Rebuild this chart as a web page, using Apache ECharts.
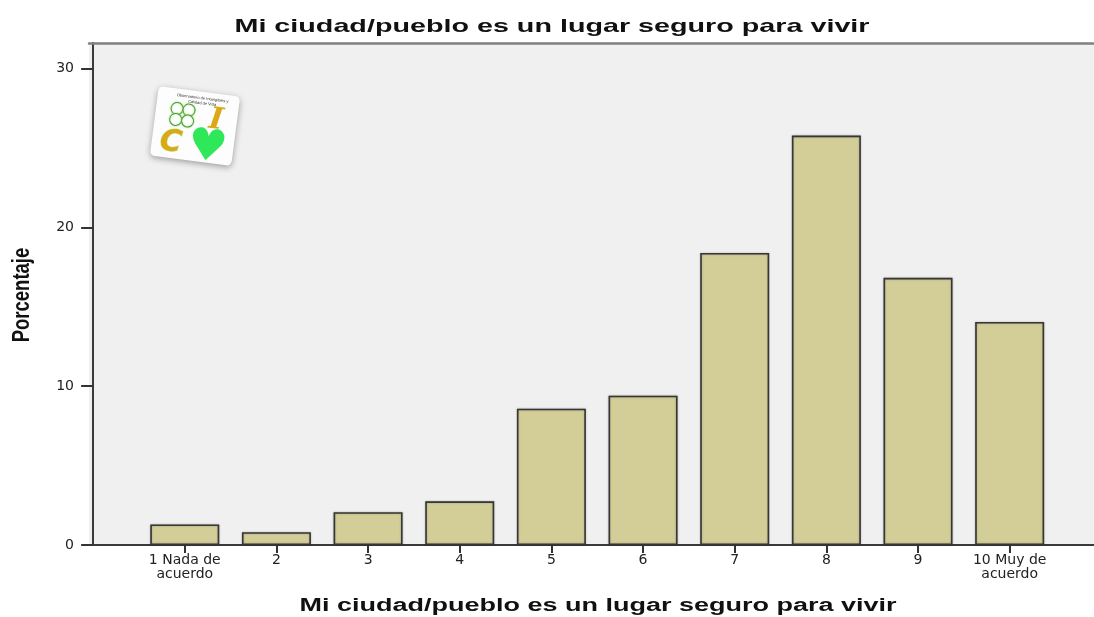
<!DOCTYPE html>
<html>
<head>
<meta charset="utf-8">
<script src="https://cdn.jsdelivr.net/npm/echarts@6/dist/echarts.min.js"></script>
<style>
html, body { margin: 0; background: #fff; }
#chart { width: 1094px; height: 617px; }
</style>
</head>
<body>
<div id="chart"></div>
<script>
// datos
const categorias = ['1 Nada de\nacuerdo', '2', '3', '4', '5', '6', '7', '8', '9', '10 Muy de\nacuerdo']
const posiciones = [1, 2, 3, 4, 5, 6, 7, 8, 9, 10]
const porcentajes = [1.29, 0.81, 2.06, 2.75, 8.58, 9.40, 18.38, 25.77, 16.82, 14.04]
const yTicks = [0, 10, 20, 30]
const titulo = 'Mi ciudad/pueblo es un lugar seguro para vivir'
const tituloY = 'Porcentaje'

const chart = echarts.init(document.getElementById('chart'))

// el original esta estirado en horizontal, se ajusta el texto al ancho
function medir (texto, fuente) {
  const ctx = document.createElement('canvas').getContext('2d')
  ctx.font = fuente
  return ctx.measureText(texto).width
}
const fTitulo = 'bold 19px "Liberation Sans"'
const fEjeX = 'bold 17.5px "Liberation Sans"'

const textos = [
  {
    type: 'text',
    x: 552,
    y: 27,
    scaleX: 635 / medir(titulo, fTitulo),
    style: { text: titulo, font: fTitulo, fill: '#111', align: 'center', verticalAlign: 'middle' }
  },
  {
    type: 'text',
    x: 598,
    y: 606,
    scaleX: 597 / medir(titulo, fEjeX),
    style: { text: titulo, font: fEjeX, fill: '#111', align: 'center', verticalAlign: 'middle' }
  },
  {
    type: 'text',
    x: 22,
    y: 295,
    rotation: Math.PI / 2,
    scaleY: 1.3,
    style: { text: tituloY, font: 'bold 18.5px "Liberation Sans"', fill: '#111', align: 'center', verticalAlign: 'middle' }
  }
]

// logo del observatorio (aprox.)
const hoja = (cx, cy) => ({
  type: 'circle',
  shape: { cx: cx, cy: cy, r: 6 },
  style: { fill: '#fff', stroke: '#4f9a3c', lineWidth: 1, shadowBlur: 2, shadowColor: '#9be27a' }
})
const logo = {
  type: 'group',
  x: 195,
  y: 126,
  rotation: -0.13,
  children: [
    {
      type: 'rect',
      shape: { x: -41, y: -35, width: 82, height: 70, r: 5 },
      style: { fill: '#fdfdfd', shadowBlur: 6, shadowColor: 'rgba(0,0,0,0.35)', shadowOffsetY: 2 }
    },
    {
      type: 'text',
      style: { x: 4, y: -31, text: 'Observatorio de Intangibles y\nCalidad de Vida', fontSize: 4, lineHeight: 5, fill: '#333', align: 'center' }
    },
    hoja(-20, -15), hoja(-8, -15), hoja(-20, -4), hoja(-8, -4),
    {
      type: 'text',
      style: { x: 20, y: -8, text: 'I', fontSize: 30, fontWeight: 'bold', fontStyle: 'italic', fontFamily: 'DejaVu Serif', fill: '#dba816', align: 'center', verticalAlign: 'middle' }
    },
    {
      type: 'text',
      style: { x: -22, y: 20, text: 'C', fontSize: 30, fontWeight: 'bold', fontStyle: 'italic', fontFamily: 'DejaVu Sans', fill: '#dba816', stroke: '#b8f09a', lineWidth: 1, align: 'center', verticalAlign: 'middle' }
    },
    {
      type: 'text',
      style: { x: 15, y: 21, text: '♥', fontSize: 44, fontFamily: 'DejaVu Sans', fill: '#2ee85a', align: 'center', verticalAlign: 'middle' }
    }
  ]
}

const option = {
  backgroundColor: '#fff',
  animation: false,
  grid: {
    left: 89,
    right: 0,
    top: 43,
    bottom: 72,
    show: true,
    borderWidth: 0,
    backgroundColor: '#f0f0f0',
    containLabel: false,
    outerBoundsMode: 'none'
  },
  graphic: textos.concat([logo]),
  xAxis: [
    {
      type: 'value',
      min: -0.045,
      max: 10.92,
      splitLine: { show: false },
      axisLine: { show: true, onZero: false, lineStyle: { color: '#3a3a3a', width: 2 } },
      axisTick: { show: true, customValues: posiciones, length: 8, lineStyle: { color: '#333', width: 2 } },
      axisLabel: {
        customValues: posiciones,
        formatter: v => categorias[Math.round(v) - 1],
        fontFamily: 'DejaVu Sans',
        fontSize: 14,
        lineHeight: 14,
        color: '#222',
        margin: 8
      }
    },
    {
      type: 'value',
      position: 'top',
      min: -0.045,
      max: 10.92,
      splitLine: { show: false },
      axisLine: { show: true, onZero: false, lineStyle: { color: '#808080', width: 2.5 } },
      axisTick: { show: false },
      axisLabel: { show: false }
    }
  ],
  yAxis: {
    type: 'value',
    min: 0,
    max: 31.6,
    splitLine: { show: false },
    axisLine: { show: true, lineStyle: { color: '#3a3a3a', width: 2 } },
    axisTick: { show: true, customValues: yTicks, length: 12, lineStyle: { color: '#333', width: 2 } },
    axisLabel: { customValues: yTicks, fontFamily: 'DejaVu Sans', fontSize: 14, color: '#222', margin: 15 }
  },
  series: [
    {
      type: 'bar',
      xAxisIndex: 0,
      barWidth: 69,
      data: posiciones.map((p, i) => [p, porcentajes[i]]),
      itemStyle: {
        color: '#d3ce98',
        borderColor: '#363636',
        borderWidth: 1.6,
        shadowColor: 'rgba(0,0,0,0.25)',
        shadowBlur: 2
      }
    }
  ]
}

chart.setOption(option)
</script>
</body>
</html>
